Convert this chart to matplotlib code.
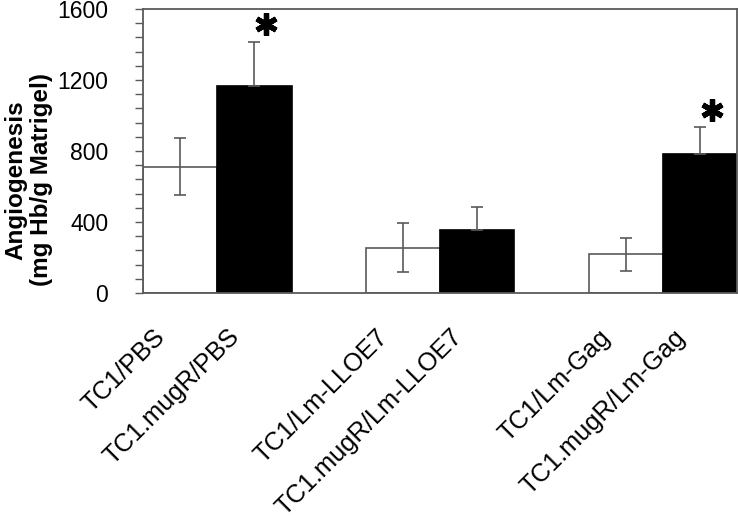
import matplotlib
matplotlib.use("Agg")
import matplotlib.pyplot as plt
import matplotlib.transforms as mtransforms
from matplotlib.ticker import MultipleLocator

# ---- data ----
categories = ["TC1/PBS", "TC1.mugR/PBS",
              "TC1/Lm-LLOE7", "TC1.mugR/Lm-LLOE7",
              "TC1/Lm-Gag", "TC1.mugR/Lm-Gag"]
values = [712, 1168, 255, 357, 218, 781]
errors = [160, 248, 137, 126, 92, 152]
is_mugR = [False, True, False, True, False, True]
significant = [False, True, False, False, False, True]
x_pos = [0.5, 1.5, 3.5, 4.5, 6.5, 7.5]
y_ticks = [0, 400, 800, 1200, 1600]

plt.rcParams['font.family'] = ['Liberation Sans', 'DejaVu Sans']

fig = plt.figure(figsize=(7.38, 5.21), dpi=100)
ax = fig.add_axes([143/738, 1 - 293/521, 594/738, 284/521])

gray = "#5a5a5a"
for x, v, e, m in zip(x_pos, values, errors, is_mugR):
    ax.bar(x, v, width=1.0, color="black" if m else "white",
           edgecolor=gray if not m else "black", linewidth=1.2, zorder=2)
    if m:
        yerr = [[0], [e]]
    else:
        yerr = [[e], [e]]
    ax.errorbar(x, v, yerr=yerr, fmt='none', ecolor=gray, elinewidth=1.2,
                capsize=4, capthick=1.2, zorder=3)

for x, v, e, s in zip(x_pos, values, errors, significant):
    if s:
        ax.plot(x + 0.16, v + e + 100, marker=(6, 2, 0), markersize=16,
                markeredgewidth=3.8, color="black", zorder=4)

ax.set_xlim(0, 8)
ax.set_ylim(0, 1600)
ax.yaxis.set_major_locator(MultipleLocator(400))
ax.yaxis.set_minor_locator(MultipleLocator(80))
ax.set_yticks(y_ticks)
ax.set_yticklabels([str(t) for t in y_ticks])
ax.tick_params(axis='y', which='both', direction='out', length=6,
               width=1, color=gray, labelsize=16.5, pad=19)

ax.set_xticks(x_pos)
ax.set_xticklabels(categories, rotation=45, ha='right', va='center',
                   rotation_mode='anchor', fontsize=18.3)
ax.tick_params(axis='x', length=0, pad=29)
offset = mtransforms.ScaledTranslation(-13.4/72, 0, fig.dpi_scale_trans)
for lbl in ax.get_xticklabels():
    lbl.set_transform(lbl.get_transform() + offset)

for sp in ax.spines.values():
    sp.set_color(gray)
    sp.set_linewidth(1.3)

ax.text((28.5 - 143) / 594, (293 - 180) / 284,
        "Angiogenesis\n(mg Hb/g Matrigel)", rotation=90,
        ha='center', va='center', multialignment='center',
        fontsize=17.5, fontweight='bold', linespacing=1.15,
        transform=ax.transAxes)

fig.savefig("out.png", dpi=100)
